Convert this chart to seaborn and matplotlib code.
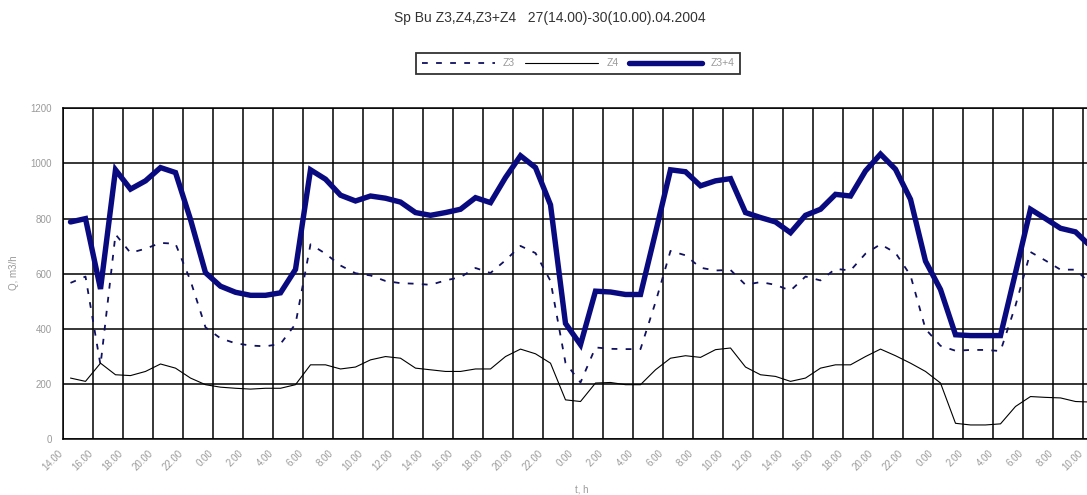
import numpy as np
import pandas as pd
import matplotlib
matplotlib.use("Agg")
import matplotlib.pyplot as plt
import matplotlib.transforms as mtransforms
import seaborn as sns

# Hourly flow readings, 27.04 14:00 through 30.04 10:00 (m3/h)
z3 = [567, 590, 269, 743, 676, 691, 712, 709, 575, 406, 366, 348, 340, 337, 346, 418,
      707, 673, 630, 602, 594, 574, 566, 564, 560, 576, 588, 621, 603, 649, 701, 675,
      574, 277, 206, 333, 328, 327, 327, 497, 683, 667, 622, 612, 614, 560, 570, 560,
      539, 590, 576, 618, 612, 673, 707, 676, 594, 400, 339, 321, 324, 324, 320, 485,
      679, 648, 615, 615, 565]
z4 = [222, 210, 276, 234, 231, 246, 273, 258, 222, 198, 189, 185, 182, 185, 185, 198,
      270, 270, 255, 262, 288, 300, 294, 258, 252, 246, 246, 255, 255, 300, 327, 310,
      276, 143, 137, 204, 206, 198, 198, 252, 294, 303, 297, 325, 331, 262, 234, 228,
      210, 222, 258, 270, 270, 300, 327, 303, 276, 246, 204, 58, 52, 52, 56, 119,
      155, 152, 150, 137, 135]
z3z4 = [788, 800, 545, 977, 907, 937, 985, 967, 797, 604, 555, 533, 522, 522, 531, 616,
        977, 943, 885, 864, 882, 874, 860, 822, 812, 822, 834, 876, 858, 949, 1028, 985,
        850, 420, 343, 537, 534, 525, 525, 749, 977, 970, 919, 937, 945, 822, 804, 788,
        749, 812, 834, 888, 882, 973, 1034, 979, 870, 646, 543, 379, 376, 376, 376, 604,
        834, 800, 765, 752, 700]

tick_labels = ["14.00", "16.00", "18.00", "20.00", "22.00",
               "0.00", "2.00", "4.00", "6.00", "8.00", "10.00", "12.00",
               "14.00", "16.00", "18.00", "20.00", "22.00",
               "0.00", "2.00", "4.00", "6.00", "8.00", "10.00", "12.00",
               "14.00", "16.00", "18.00", "20.00", "22.00",
               "0.00", "2.00", "4.00", "6.00", "8.00", "10.00"]
y_ticks = [0, 200, 400, 600, 800, 1000, 1200]

sns.set_style("white")
plt.rcParams["font.family"] = ["Liberation Sans", "DejaVu Sans"]

W, H = 1087, 495
fig = plt.figure(figsize=(W / 100, H / 100), dpi=100)
ax_left, ax_right = 63, 1087
ax_top, ax_bottom = 108.3, 439.3
ax = fig.add_axes([ax_left / W, 1 - ax_bottom / H,
                   (ax_right - ax_left) / W, (ax_bottom - ax_top) / H])

# each hour is one category; points sit in the middle of their hour slot
hours = np.arange(len(z3)) + 0.5
df = pd.DataFrame({"hour": hours, "Z3": z3, "Z4": z4, "Z3+4": z3z4})

sns.lineplot(data=df, x="hour", y="Z3", ax=ax, color="#101060", lw=1.3,
             linestyle=(0, (3.2, 4.6)), label="Z3")
sns.lineplot(data=df, x="hour", y="Z4", ax=ax, color="black", lw=0.8, label="Z4")
sns.lineplot(data=df, x="hour", y="Z3+4", ax=ax, color="#0a0a80", lw=3.9,
             label="Z3+4", solid_joinstyle="miter")

ax.set_xlim(0, (ax_right - ax_left) / 15)
ax.set_ylim(0, 1200)
tick_pos = np.arange(0, 2 * len(tick_labels), 2)
ax.set_xticks(tick_pos)
ax.set_xticklabels([])
# slanted hour labels, tucked just left of their tick
label_tf = ax.get_xaxis_transform() + mtransforms.ScaledTranslation(
    -5 / 100, -9 / 100, fig.dpi_scale_trans)
for pos, txt in zip(tick_pos, tick_labels):
    ax.text(pos, 0, txt, transform=label_tf, rotation=45, ha="right", va="top",
            rotation_mode="anchor", fontsize=7, color="#9a9a9a", clip_on=False)

ax.set_yticks(y_ticks)
ax.set_yticklabels([str(v) for v in y_ticks], fontsize=7, color="#9a9a9a")
ax.tick_params(axis="both", direction="out", length=5, width=1.1, color="black", pad=3)

ax.grid(True, color="black", lw=1.1)
ax.set_axisbelow(True)
for side in ["left", "bottom", "top"]:
    ax.spines[side].set_visible(True)
    ax.spines[side].set_color("black")
    ax.spines[side].set_linewidth(1.1)
ax.spines["right"].set_visible(False)

ax.set_xlabel("t, h", fontsize=7, color="#9a9a9a")
ax.set_ylabel("Q, m3/h", fontsize=7, color="#9a9a9a")
ax.xaxis.set_label_coords((582 - ax_left) / (ax_right - ax_left),
                          (ax_bottom - 484) / (ax_bottom - ax_top))
ax.yaxis.set_label_coords((19 - ax_left) / (ax_right - ax_left),
                          (ax_bottom - 273) / (ax_bottom - ax_top))

ax.get_legend().remove()
handles, labels = ax.get_legend_handles_labels()
leg = fig.legend(handles, labels, loc="center", bbox_to_anchor=(578 / W, 1 - 63.5 / H),
                 ncol=3, fontsize=7.5, frameon=True, fancybox=False,
                 edgecolor="black", handlelength=7.0, handletextpad=0.8,
                 columnspacing=1.0, borderpad=0.55)
leg.get_frame().set_linewidth(1.3)
for t in leg.get_texts():
    t.set_color("#9a9a9a")

fig.text(550 / W, 1 - 18 / H, "Sp Bu Z3,Z4,Z3+Z4   27(14.00)-30(10.00).04.2004",
         ha="center", va="center", fontsize=10, color="#333333")

fig.savefig("out.png", dpi=100, facecolor="white")
